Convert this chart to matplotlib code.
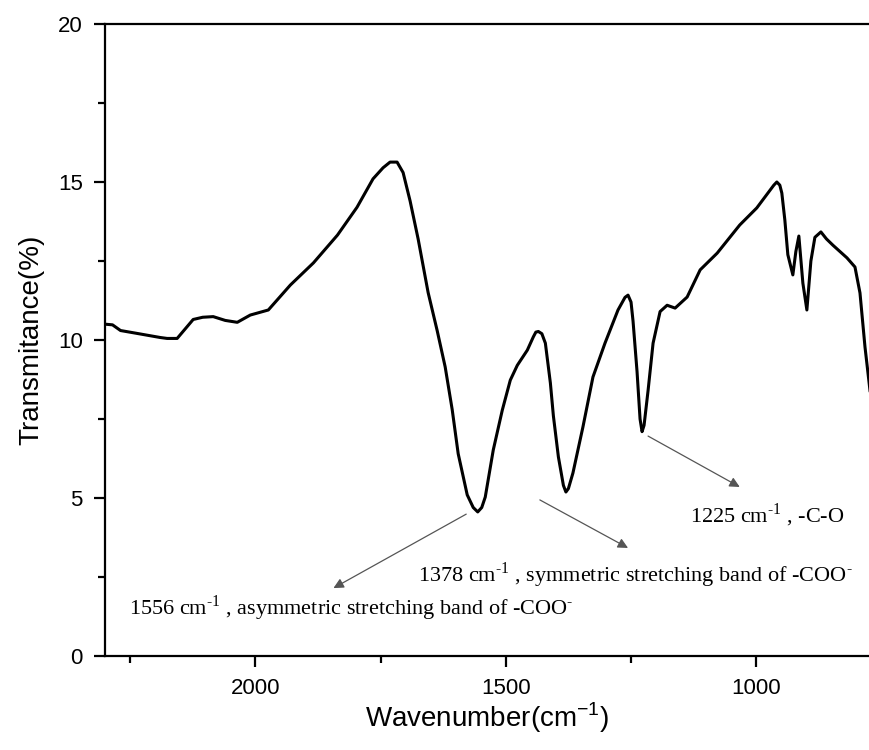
import matplotlib
matplotlib.use("Agg")
import matplotlib.pyplot as plt
from matplotlib.ticker import MultipleLocator

# FTIR spectrum (wavenumber in cm-1, transmittance in %)
wavenumber = [2299, 2285, 2269, 2240, 2215, 2190, 2176, 2156, 2140, 2124,
              2105, 2084, 2060, 2036, 2010, 1974, 1930, 1884, 1836, 1797,
              1765, 1745, 1731, 1717, 1705, 1691, 1675, 1655, 1637, 1621,
              1607, 1595, 1577, 1565, 1556, 1548, 1541, 1525, 1507, 1491,
              1477, 1457, 1445, 1440, 1435, 1428, 1421, 1411, 1405, 1395,
              1385, 1380, 1375, 1366, 1346, 1326, 1302, 1276, 1262, 1256,
              1250, 1246, 1238, 1232, 1228, 1224, 1216, 1206, 1192, 1178,
              1162, 1138, 1112, 1078, 1033, 999, 965, 959, 953, 949,
              943, 937, 927, 921, 915, 907, 899, 891, 883, 871,
              860, 847, 833, 819, 803, 793, 783, 773]
transmittance = [10.5, 10.48, 10.3, 10.22, 10.15, 10.08, 10.05, 10.05, 10.35, 10.65,
                 10.72, 10.74, 10.62, 10.56, 10.79, 10.95, 11.74, 12.44, 13.32, 14.2,
                 15.1, 15.45, 15.63, 15.63, 15.3, 14.4, 13.2, 11.5, 10.3, 9.15,
                 7.8, 6.4, 5.1, 4.7, 4.56, 4.7, 5.03, 6.52, 7.78, 8.73,
                 9.2, 9.68, 10.1, 10.25, 10.27, 10.2, 9.9, 8.64, 7.6, 6.3,
                 5.4, 5.19, 5.3, 5.79, 7.25, 8.83, 9.9, 10.95, 11.35, 11.42,
                 11.2, 10.6, 9.0, 7.5, 7.1, 7.3, 8.4, 9.9, 10.9, 11.1,
                 11.01, 11.36, 12.22, 12.75, 13.64, 14.18, 14.9, 15.0, 14.9, 14.65,
                 13.8, 12.7, 12.06, 12.8, 13.29, 11.8, 10.95, 12.5, 13.25, 13.42,
                 13.2, 13.0, 12.8, 12.6, 12.31, 11.49, 9.78, 8.4]

# peak labels: text, arrow start (on the band), arrow tip, text position
labels = [r"1556 cm$^{\text{-1}}$ , asymmetric stretching band of -COO$^{\text{-}}$",
          r"1378 cm$^{\text{-1}}$ , symmetric stretching band of -COO$^{\text{-}}$",
          r"1225 cm$^{\text{-1}}$ , -C-O"]
arrow_from = [(1579, 4.49), (1432, 4.94), (1216, 6.96)]
arrow_to = [(1844, 2.15), (1256, 3.42), (1033, 5.35)]
text_pos = [(2253, 1.52), (1675, 2.56), (1132, 4.46)]

plt.rcParams['font.family'] = ['Liberation Sans', 'DejaVu Sans']
plt.rcParams['mathtext.fontset'] = 'custom'
plt.rcParams['mathtext.rm'] = 'Liberation Serif'

fig = plt.figure(figsize=(8.7, 7.5), dpi=100)
ax = fig.add_axes([0.1207, 0.1253, 0.8793, 0.8427])

ax.plot(wavenumber, transmittance, color='black', linewidth=2.2)

for lab, a, b, t in zip(labels, arrow_from, arrow_to, text_pos):
    ax.annotate("", xy=b, xytext=a,
                arrowprops=dict(arrowstyle='-|>', color='#555555', lw=0.9,
                                mutation_scale=15, shrinkA=0, shrinkB=0))
    ax.text(t[0], t[1], lab, family=['Liberation Serif', 'DejaVu Serif'],
            fontsize=16, ha='left', va='center')

ax.set_xlim(2300, 773)
ax.set_ylim(0, 20)
ax.xaxis.set_major_locator(MultipleLocator(500))
ax.xaxis.set_minor_locator(MultipleLocator(250))
ax.yaxis.set_major_locator(MultipleLocator(5))
ax.yaxis.set_minor_locator(MultipleLocator(2.5))

ax.spines['right'].set_visible(False)
for s in ['left', 'bottom', 'top']:
    ax.spines[s].set_linewidth(1.6)
ax.tick_params(which='both', direction='out', width=1.6, labelsize=16, top=False, right=False)
ax.tick_params(which='major', length=8, pad=8)
ax.tick_params(which='minor', length=5)

ax.set_xlabel(r"Wavenumber(cm$^{\mathregular{-1}}$)", fontsize=20, labelpad=1)
ax.set_ylabel("Transmitance(%)", fontsize=20, labelpad=10)

fig.savefig("out.png", dpi=100)
